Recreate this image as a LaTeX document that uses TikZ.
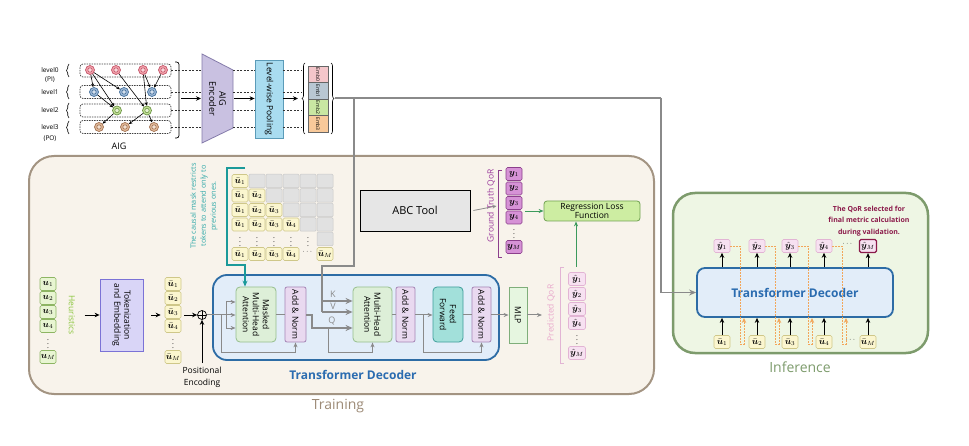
\documentclass[tikz,border=0pt]{standalone}
\usepackage{fontspec}
\setmainfont{Open Sans}
\usepackage{amsmath}
\usepackage{bm}
\usetikzlibrary{arrows.meta,decorations.pathreplacing}

\definecolor{trainbg}{HTML}{F8F3EB}
\definecolor{trainbd}{HTML}{A39482}
\definecolor{trainlab}{HTML}{9C8A76}
\definecolor{infbg}{HTML}{EEF6E4}
\definecolor{infbd}{HTML}{7D9B6C}
\definecolor{decfill}{HTML}{E2EDF9}
\definecolor{decbd}{HTML}{2D6CA5}
\definecolor{dectext}{HTML}{2B6CB0}
\definecolor{mhafill}{HTML}{DDEFD8}
\definecolor{mhabd}{HTML}{96BE8C}
\definecolor{anfill}{HTML}{E9D9F0}
\definecolor{anbd}{HTML}{A584B5}
\definecolor{fffill}{HTML}{A2E0DA}
\definecolor{ffbd}{HTML}{3E9E9A}
\definecolor{mlpfill}{HTML}{E6F6E0}
\definecolor{mlpbd}{HTML}{7FAE7A}
\definecolor{yfill}{HTML}{FBF6CF}
\definecolor{ybd}{HTML}{CFC789}
\definecolor{hfill}{HTML}{E8F5D2}
\definecolor{hbd}{HTML}{8DB563}
\definecolor{heurtext}{HTML}{8CC63F}
\definecolor{tokfill}{HTML}{D9D5F7}
\definecolor{tokbd}{HTML}{7B72D6}
\definecolor{gtfill}{HTML}{D692D6}
\definecolor{gtbd}{HTML}{8C3F8C}
\definecolor{gttext}{HTML}{9B3A9B}
\definecolor{pqfill}{HTML}{F7E1F1}
\definecolor{pqbd}{HTML}{E2B4D4}
\definecolor{pqtext}{HTML}{E9A9CC}
\definecolor{regfill}{HTML}{CDEDA2}
\definecolor{regbd}{HTML}{71A152}
\definecolor{garrow2}{HTML}{3C9A5C}
\definecolor{tealA}{HTML}{1B9A9A}
\definecolor{tealT}{HTML}{2FA8A8}
\definecolor{orangeA}{HTML}{F2A65A}
\definecolor{magentaA}{HTML}{8B1A4A}
\definecolor{encfill}{HTML}{C9C1E1}
\definecolor{encbd}{HTML}{847BAA}
\definecolor{poolfill}{HTML}{A9DCF0}
\definecolor{poolbd}{HTML}{5B9BB8}
\definecolor{emba}{HTML}{F4C6CA}
\definecolor{embb}{HTML}{B9C7D3}
\definecolor{embc}{HTML}{C9E7A2}
\definecolor{embd}{HTML}{F8C99A}
\definecolor{cellfill}{HTML}{E1E1E1}
\definecolor{cellbd}{HTML}{C9C9C9}
\definecolor{lva}{HTML}{F2A3AC}
\definecolor{lvad}{HTML}{C4566A}
\definecolor{lvb}{HTML}{9DB9D8}
\definecolor{lvbd}{HTML}{44709A}
\definecolor{lvc}{HTML}{C3E196}
\definecolor{lvcd}{HTML}{6C9445}
\definecolor{lvd}{HTML}{E2BA9A}
\definecolor{lvdd}{HTML}{A27252}
\definecolor{garrow}{HTML}{8A8A8A}
\definecolor{abcfill}{HTML}{E6E6E6}

\newcommand\fsz[2]{\fontsize{#1}{#2}\selectfont}

\begin{document}
\begin{tikzpicture}[x=1pt,y=-1pt,
 garr/.style={draw=garrow, line width=1pt, -{Stealth[length=5pt,width=4pt]}},
 gln/.style={draw=garrow, line width=1pt},
 gthk/.style={draw=garrow, line width=1.6pt},
 garrthk/.style={draw=garrow, line width=1.6pt, -{Stealth[length=7pt,width=6pt]}},
 barr/.style={draw=black, line width=0.9pt, -{Stealth[length=5pt,width=4.5pt]}},
 aigarr/.style={draw=black, line width=0.6pt, -{Stealth[length=3.5pt,width=3pt]}},
 dl/.style={draw=black!80, line width=0.7pt, dash pattern=on 2pt off 1.5pt},
 lvbox/.style={draw=black!75, line width=0.7pt, dash pattern=on 1.5pt off 1pt, rounded corners=3pt, minimum width=91pt, minimum height=13pt, inner sep=0pt},
 aign/.style 2 args={circle, minimum size=9pt, inner sep=0pt, fill=#1, draw=#2, line width=0.7pt,
   path picture={\draw[#2, fill=#1!45!white, line width=0.6pt] (path picture bounding box.center) circle (2.2pt);}},
 rlab/.style={rotate=-90, align=center, font=\fsz{8.5}{10}},
 ub/.style={draw=ybd, fill=yfill, rounded corners=1.5pt, minimum width=16pt, minimum height=13pt, inner sep=0pt, font=\fsz{9}{10}, line width=0.6pt},
 hb/.style={draw=hbd, fill=hfill, rounded corners=1.5pt, minimum width=16pt, minimum height=13pt, inner sep=0pt, font=\fsz{9}{10}, line width=0.6pt},
 gtb/.style={draw=gtbd, fill=gtfill, rounded corners=1.5pt, minimum width=16pt, minimum height=13pt, inner sep=0pt, font=\fsz{9}{10}, line width=0.6pt},
 pqb/.style={draw=pqbd, fill=pqfill, rounded corners=1.5pt, minimum width=17pt, minimum height=13pt, inner sep=0pt, font=\fsz{9}{10}, line width=0.6pt},
 gc/.style={draw=cellbd, fill=cellfill, rounded corners=1pt, minimum width=16pt, minimum height=13.5pt, inner sep=0pt, line width=0.5pt},
 mh/.style={draw=mhabd, fill=mhafill, rounded corners=4pt, minimum height=55pt, inner sep=0pt, line width=0.8pt},
 an/.style={draw=anbd, fill=anfill, rounded corners=2pt, minimum height=55pt, inner sep=0pt, line width=0.8pt},
 embx/.style={draw=black!60, line width=0.5pt, minimum width=20pt, minimum height=16.5pt, inner sep=0pt},
 odot/.style={draw=orangeA, line width=0.9pt, dash pattern=on 1.5pt off 1.5pt, -{Stealth[length=5pt,width=4.5pt]}}
]
\useasboundingbox (0,0) rectangle (969,446);

% ---------------- Training panel ----------------
\node[draw=trainbd, fill=trainbg, line width=2pt, rounded corners=25pt, minimum width=625pt, minimum height=238pt, inner sep=0pt] (train) at (341.5,275) {};
\node[text=trainlab, font=\fsz{14}{16}] (trainlab) at (338,406) {Training};

% ---------------- Inference panel ----------------
\node[draw=infbd, fill=infbg, line width=2.5pt, rounded corners=22pt, minimum width=255pt, minimum height=160pt, inner sep=0pt] (inf) at (800.5,273) {};
\node[text=infbd, font=\fsz{14}{16}] (inflab) at (800,367) {Inference};

% ---------------- AIG part ----------------
\foreach \n/\yy in {0/70,1/92,2/110.5,3/127}{
  \node[font=\fsz{6.5}{7}] (lv\n) at (50,\yy) {level\n};
}
\node[font=\fsz{6.5}{7}] (pi) at (50,80) {(PI)};
\node[font=\fsz{6.5}{7}] (po) at (50,139) {(PO)};
\foreach \a/\b in {77/64,99/85,118/103,134/121}{
  \draw[decorate, decoration={brace, amplitude=2.5pt}, line width=0.6pt] (69,\a) -- (69,\b);
}
\node[lvbox] (L0) at (125.5,70.5) {};
\node[lvbox] (L1) at (125.5,92) {};
\node[lvbox] (L2) at (125.5,110.5) {};
\node[lvbox] (L3) at (125.5,127) {};

\node[aign={lva}{lvad}] (a1) at (90,70) {};
\node[aign={lva}{lvad}] (a2) at (116,70) {};
\node[aign={lva}{lvad}] (a3) at (143,70) {};
\node[aign={lva}{lvad}] (a4) at (163,70) {};
\node[aign={lvb}{lvbd}] (b1) at (94,92) {};
\node[aign={lvb}{lvbd}] (b2) at (124,92) {};
\node[aign={lvb}{lvbd}] (b3) at (152,92) {};
\node[aign={lvc}{lvcd}] (c1) at (117,110.5) {};
\node[aign={lvc}{lvcd}] (c2) at (147,110.5) {};
\node[aign={lvd}{lvdd}] (d1) at (99,127) {};
\node[aign={lvd}{lvdd}] (d2) at (125,127) {};
\node[aign={lvd}{lvdd}] (d3) at (154,127) {};
\foreach \s/\t in {a1/b1,a1/b2,a1/c1,a2/c2,a3/b3,a3/c2,a4/b3,b1/c1,c1/d1,c2/d2,c2/d3}{
  \draw[aigarr] (\s) -- (\t);
}
\node[font=\fsz{9}{10}] (aiglab) at (119,146) {AIG};
\draw[line width=0.7pt, rounded corners=2.5pt] (175,62) -- (179,62) -- (179,138) -- (175,138);

% encoder
\draw[fill=encfill, draw=encbd, line width=0.8pt] (202,54) -- (233,70) -- (233,128) -- (202,143) -- cycle;
\node[rotate=-90, align=center, font=\fsz{9}{10}] (enc) at (217.5,98.5) {AIG\\Encoder};
% pooling
\node[draw=poolbd, fill=poolfill, line width=0.8pt, minimum width=28pt, minimum height=78pt, inner sep=0pt,
  label={[rotate=-90, font=\fsz{8.5}{10}]center:Level-wise Pooling}] (pool) at (269,99) {};
% dashed level connectors
\foreach \yy in {70.5,92,110.5,127}{
  \draw[dl] (171,\yy) -- (202,\yy);
  \draw[dl] (233,\yy) -- (pool.west |- 0,\yy);
  \draw[dl] (pool.east |- 0,\yy) -- (301,\yy);
}
\draw[barr] (181,98.5) -- (201,98.5);
\draw[barr] (234,98.5) -- (pool.west |- 0,98.5);
\draw[barr] (pool.east |- 0,98.5) -- (298,98.5);
% embeddings
\draw[decorate, decoration={brace, amplitude=3pt}, line width=0.6pt] (305,134) -- (305,63);
\node[embx, fill=emba, label={[rotate=-90, font=\fsz{5}{6}]center:Emb0}] (e0) at (318,74.5) {};
\node[embx, fill=embb, label={[rotate=-90, font=\fsz{5}{6}]center:Emb1}] (e1) at (318,91) {};
\node[embx, fill=embc, label={[rotate=-90, font=\fsz{5}{6}]center:Emb2}] (e2) at (318,107.5) {};
\node[embx, fill=embd, label={[rotate=-90, font=\fsz{5}{6}]center:Emb3}] (e3) at (318,124) {};
\draw[decorate, decoration={brace, amplitude=3pt}, line width=0.6pt] (331,63) -- (331,134);
\coordinate (embout) at (335,98);

% ---------------- Left of training ----------------
\foreach \i/\yy in {1/284,2/298,3/312,4/326}{
  \node[hb] (h\i) at (48,\yy) {$\bm u_{\i}$};
  \node[ub] (ub\i) at (173,\yy) {$\bar{\bm u}_{\i}$};
}
\node[font=\fsz{7}{8}] (hd) at (48,341) {$\vdots$};
\node[font=\fsz{7}{8}] (ubd) at (173,341) {$\vdots$};
\node[hb] (hM) at (48,357) {$\bm u_{M}$};
\node[ub] (ubM) at (173,357) {$\bar{\bm u}_{M}$};
\node[rotate=-90, text=heurtext, font=\fsz{8.5}{10}] (hlab) at (72,315) {Heuristics};
\node[draw=tokbd, fill=tokfill, line width=0.8pt, minimum width=43pt, minimum height=72pt, inner sep=0pt,
  label={[rlab]center:{Tokenization\\and Embedding}}] (tok) at (121.5,315) {};
\draw[barr] ([xshift=6pt]hlab.north) -- (tok.west);
\draw[barr] ([xshift=8pt]tok.east) -- ([xshift=-4pt]tok.east -| ub3.west);
\node[circle, draw=black, line width=0.7pt, minimum size=9pt, inner sep=0pt, fill=trainbg,
  path picture={\draw[black, line width=0.7pt] (path picture bounding box.north) -- (path picture bounding box.south) (path picture bounding box.west) -- (path picture bounding box.east);}] (plus) at (202,315) {};
\draw[barr] ([xshift=3pt]ub3.east |- plus.west) -- (plus.west);
\node[font=\fsz{8.5}{12}, align=center] (pe) at (202,377) {Positional\\Encoding};
\draw[barr] (pe.north) -- (plus.south);

% ---------------- Causal mask ----------------
\foreach \r/\yy in {1/181,2/195.5,3/210,4/224.5}{
  \foreach \c/\xx in {1/240,2/257,3/274,4/291,5/308,6/325}{
    \ifnum\c>\r
      \node[gc] (m\r\c) at (\xx,\yy) {};
    \else
      \node[ub] (m\r\c) at (\xx,\yy) {$\bar{\bm u}_{\c}$};
    \fi
  }
}
\foreach \c/\xx in {1/240,2/257,3/274,4/291,5/308}{
  \node[font=\fsz{7}{8}] (m5\c) at (\xx,239) {$\vdots$};
}
\node[gc] (m56) at (325,239) {};
\foreach \c/\xx in {1/240,2/257,3/274,4/291}{
  \node[ub] (m6\c) at (\xx,254) {$\bar{\bm u}_{\c}$};
}
\node[font=\fsz{7}{8}] (m65) at (308,252) {$\cdots$};
\node[ub] (m66) at (325,254) {$\bar{\bm u}_{M}$};
\node[rotate=90, align=center, text=tealT, font=\fsz{7.3}{10}] (causal) at (204,206) {The causal mask restricts\\tokens to attend only to\\previous ones.};

% ---------------- Transformer decoder (training) ----------------
\node[draw=decbd, fill=decfill, line width=1.8pt, rounded corners=14pt, minimum width=286pt, minimum height=85pt, inner sep=0pt] (dec) at (356,317.5) {};
\node[text=dectext, font=\bfseries\fsz{12}{14}] (declab) at (353,375) {Transformer Decoder};
\node[mh, minimum width=40pt, label={[rlab]center:{Masked\\Multi-Head\\Attention}}] (mmha) at (256,314.5) {};
\node[an, minimum width=21pt, label={[rlab]center:{Add \& Norm}}] (an1) at (295.5,314.5) {};
\node[mh, minimum width=39pt, label={[rlab]center:{Multi-Head\\Attention}}] (mha) at (372.5,314.5) {};
\node[an, minimum width=19pt, label={[rlab]center:{Add \& Norm}}] (an2) at (405.5,314.5) {};
\node[draw=ffbd, fill=fffill, rounded corners=4pt, minimum width=30pt, minimum height=55pt, inner sep=0pt, line width=0.8pt,
  label={[rlab]center:{Feed\\Forward}}] (ff) at (448,314.5) {};
\node[an, minimum width=19pt, label={[rlab]center:{Add \& Norm}}] (an3) at (481.5,314.5) {};
\node[draw=mlpbd, fill=mlpfill, minimum width=18pt, minimum height=56pt, inner sep=0pt, line width=0.8pt,
  label={[rlab]center:MLP}] (mlp) at (518,315) {};

\draw[draw=tealA, line width=1.8pt, -{Stealth[length=6pt,width=5pt]}] (245,168) -- (227,168) -- (227,265) -- (245,265) -- ([xshift=-11pt]mmha.north);

\draw[gln] (plus.east) -- (226,315);
\draw[gln] (226,302) -- (226,328);
\foreach \yy in {302,315,328}{
  \draw[garr] (226,\yy) -- (mmha.west |- 0,\yy);
}
\draw[garr] (221,315) -- (221,352) -- (an1.south |- 0,352) -- (an1.south);
\draw[gln] (mmha.east |- 0,315) -- (an1.west |- 0,315);
\draw[garrthk] (an1.east |- 0,315) -- (312,315) -- (312,328) -- (mha.west |- 0,328);
\node[text=garrow, font=\fsz{9}{10}] (qlab) at (332,321) {Q};
\draw[garr] (328,328) -- (328,352) -- (mha.south |- 0,352) -- (mha.south);
% K,V from AIG embeddings
\draw[gthk] (embout) -- (661,98);
\draw[gthk] (354,98) -- (354,266) -- (322,266) -- (322,312);
\draw[garrthk] (322,301) -- (mha.west |- 0,301);
\draw[garrthk] (322,312) -- (mha.west |- 0,312);
\node[text=garrow, font=\fsz{9}{10}] (klab) at (333,294) {K};
\node[text=garrow, font=\fsz{9}{10}] (vlab) at (333,306) {V};
\draw[gln] (mha.east |- 0,315) -- (an2.west |- 0,315);
\draw[garr] (an2.east |- 0,315) -- (ff.west |- 0,315);
\draw[garr] (423,315) -- (423,352) -- (an3.south |- 0,352) -- (an3.south);
\draw[gln] (ff.east |- 0,315) -- (an3.west |- 0,315);
\draw[garr] (an3.east |- 0,315) -- (mlp.west);
\coordinate (pqin) at (542,315);
\draw[garr] (mlp.east) -- (pqin);

% ---------------- ABC tool / ground truth ----------------
\node[draw=black, fill=abcfill, line width=0.8pt, minimum width=110pt, minimum height=41pt, inner sep=0pt, font=\fsz{11}{12}] (abc) at (415,210.5) {ABC Tool};
\node[rotate=90, text=gttext, font=\fsz{8.5}{10}] (gtlab) at (491,206) {Ground Truth QoR};
\draw[draw=garrow, line width=0.8pt, -{Stealth[length=4pt,width=3.5pt]}] ([xshift=3pt]abc.east) -- ([xshift=-2pt]gtlab.south);
\draw[gtbd, line width=0.7pt] (502,170) -- (498,170) -- (498,257) -- (502,257);
\foreach \i/\yy in {1/174,2/188.5,3/203,4/217.5}{
  \node[gtb] (gt\i) at (514,\yy) {$\bm y_{\i}$};
}
\node[font=\fsz{7}{8}] (gtd) at (514,231) {$\vdots$};
\node[gtb] (gtM) at (514,247) {$\bm y_{M}$};
\node[draw=regbd, fill=regfill, rounded corners=3pt, line width=0.8pt, minimum width=96pt, minimum height=20pt, inner sep=0pt, align=center, font=\fsz{8.5}{9.5}] (reg) at (592,211) {Regression Loss\\Function};
\draw[draw=garrow2, line width=0.9pt, -{Stealth[length=5pt,width=4pt]}] ([xshift=3pt]gt3.east |- reg.west) -- (reg.west);

% ---------------- Predicted QoR ----------------
\node[rotate=90, text=pqtext, font=\fsz{8.5}{10}] (pqlab) at (551,313) {Predicted QoR};
\draw[pqbd, line width=0.7pt] (564,267) -- (560,267) -- (560,363) -- (564,363);
\foreach \i/\yy in {1/279,2/294,3/309,4/323}{
  \node[pqb] (pq\i) at (577,\yy) {$\hat{\bm y}_{\i}$};
}
\node[font=\fsz{7}{8}] (pqd) at (577,337) {$\vdots$};
\node[pqb] (pqM) at (577,353) {$\hat{\bm y}_{M}$};
\coordinate (pqtop) at (576,267);
\draw[draw=garrow2, line width=0.9pt, -{Stealth[length=5pt,width=4pt]}] (pqtop) -- (reg.south -| pqtop);

% ---------------- Inference content ----------------
\node[draw=decbd, fill=decfill, line width=1.8pt, rounded corners=8pt, minimum width=196pt, minimum height=49pt, inner sep=0pt,
  text=dectext, font=\bfseries\fsz{12}{14}] (idec) at (795,292.5) {Transformer Decoder};
\draw[gthk, -{Stealth[length=7pt,width=6pt]}] (661,98) |- (idec.west);
\foreach \i/\x in {1/722,2/757,3/790,4/824}{
  \node[pqb, minimum width=16pt] (iy\i) at (\x,246) {$\hat{\bm y}_{\i}$};
  \node[ub] (iu\i) at (\x,342) {$\bar{\bm u}_{\i}$};
  \draw[barr] (iu\i.north) -- (iu\i.north |- idec.south);
  \draw[barr] (iy\i.south |- idec.north) -- (iy\i.south);
}
\node[pqb, draw=magentaA, line width=1.3pt] (iyM) at (868,246) {$\hat{\bm y}_{M}$};
\node[ub] (iuM) at (868,342) {$\bar{\bm u}_{M}$};
\draw[barr] (iuM.north) -- (iuM.north |- idec.south);
\draw[barr] (iyM.south |- idec.north) -- (iyM.south);
\node[font=\fsz{7}{8}] (idy) at (848,244) {$\cdots$};
\node[font=\fsz{7}{8}] (idu) at (851,340) {$\cdots$};
\foreach \i/\x in {1/722,2/757,3/790,4/824}{
  \draw[odot] (iy\i.east) -- (\x+18,246) -- (\x+18,344) -- (\x+22,344) -- (\x+22,318);
}
\node[text=magentaA, align=center, font=\bfseries\fsz{7}{11.5}] (note) at (869,221) {The QoR selected for\\final metric calculation\\during validation.};

\end{tikzpicture}
\end{document}
